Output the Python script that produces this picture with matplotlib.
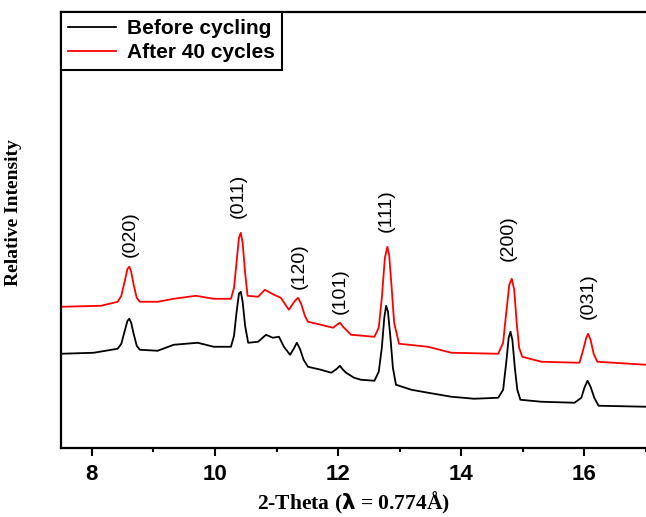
import matplotlib.pyplot as plt
from matplotlib.ticker import MultipleLocator

# XRD patterns (arbitrary intensity units)
theta_before = [7.50, 8.03, 8.42, 8.48, 8.54, 8.58, 8.61, 8.64, 8.68, 8.73, 8.78,
                9.07, 9.33, 9.72, 9.98, 10.26, 10.31, 10.35, 10.39, 10.42, 10.45,
                10.49, 10.54, 10.70, 10.83, 10.94, 11.04, 11.12, 11.22, 11.28, 11.33,
                11.38, 11.44, 11.51, 11.72, 11.89, 11.98, 12.03, 12.08, 12.13, 12.26,
                12.37, 12.59, 12.66, 12.71, 12.75, 12.78, 12.81, 12.85, 12.89, 12.94,
                13.19, 13.46, 13.84, 14.21, 14.60, 14.68, 14.73, 14.77, 14.80, 14.83,
                14.87, 14.91, 14.96, 15.30, 15.84, 15.95, 16.00, 16.05, 16.10, 16.16,
                16.23, 17.00]
int_before = [94, 95, 99, 104, 118, 127, 129, 125, 114, 102, 98,
              97, 103, 105, 101, 101, 112, 135, 154, 156, 146,
              122, 105, 106, 113, 110, 111, 101, 93, 99, 105,
              99, 88, 81, 78, 75, 79, 82, 78, 75, 70,
              68, 67, 76, 100, 130, 142, 136, 110, 80, 63,
              58, 55, 51, 49, 50, 58, 85, 110, 116, 108,
              80, 58, 48, 46, 45, 50, 60, 67, 61, 50,
              42, 41]

theta_after = [7.50, 8.15, 8.42, 8.48, 8.54, 8.58, 8.61, 8.64, 8.68, 8.73, 8.78,
               9.07, 9.33, 9.69, 9.98, 10.26, 10.31, 10.35, 10.39, 10.42, 10.45,
               10.49, 10.53, 10.70, 10.81, 10.96, 11.07, 11.20, 11.30, 11.35, 11.40,
               11.46, 11.51, 11.72, 11.92, 11.98, 12.03, 12.08, 12.13, 12.21, 12.59,
               12.66, 12.71, 12.76, 12.80, 12.83, 12.87, 12.91, 12.99, 13.46, 13.84,
               14.60, 14.68, 14.73, 14.78, 14.82, 14.86, 14.90, 14.94, 14.99, 15.30,
               15.92, 15.98, 16.03, 16.06, 16.10, 16.15, 16.21, 17.00]
int_after = [141, 142, 146, 152, 168, 179, 181, 176, 163, 150, 146,
             146, 149, 152, 149, 149, 160, 185, 210, 215, 205,
             175, 152, 151, 158, 153, 150, 138, 147, 150, 144,
             132, 126, 123, 120, 123, 125, 121, 118, 113, 111,
             120, 150, 190, 201, 192, 160, 125, 104, 101, 95,
             94, 105, 135, 163, 169, 158, 125, 100, 91, 86,
             85, 98, 110, 114, 108, 94, 86, 83]

hkl = ["(020)", "(011)", "(120)", "(101)", "(111)", "(200)", "(031)"]
hkl_x = [8.63, 10.38, 11.37, 12.03, 12.78, 14.76, 16.07]
hkl_y = [214, 252, 182, 157, 237, 210, 152]

fig = plt.figure(figsize=(6.46, 5.17), dpi=100)
ax = fig.add_axes([0.0944, 0.134, 0.9056, 0.843])

ax.plot(theta_before, int_before, color="black", lw=1.3, label="Before cycling")
ax.plot(theta_after, int_after, color="red", lw=1.3, label="After 40 cycles")

for t, x, y in zip(hkl, hkl_x, hkl_y):
    ax.text(x, y, t, rotation=90, ha="center", va="center",
            fontsize=14, family="Liberation Sans")

ax.set_xlim(7.5, 17)
ax.set_ylim(0, 436)
ax.xaxis.set_major_locator(MultipleLocator(2))
ax.xaxis.set_minor_locator(MultipleLocator(1))
ax.set_yticks([])
ax.tick_params(axis="x", which="major", length=6, width=1.5, direction="out", pad=6)
ax.tick_params(axis="x", which="minor", length=3, width=1.5, direction="out")
for lab in ax.get_xticklabels():
    lab.set_fontsize(16)
    lab.set_fontweight("bold")
    lab.set_family("Liberation Sans")

for side in ["left", "bottom", "top"]:
    ax.spines[side].set_linewidth(1.6)
ax.spines["right"].set_visible(False)

ax.set_xlabel("2-Theta ($\\mathbf{\\lambda}$ = 0.774Å)", fontsize=15.5, fontweight="bold",
              family="Liberation Serif", labelpad=3)
ax.set_ylabel("Relative Intensity", fontsize=14, fontweight="bold",
              family="Liberation Serif")
ax.yaxis.set_label_coords(-0.067, 0.54)

leg = ax.legend(loc="upper left", borderaxespad=0, fancybox=False, handlelength=2.3,
                prop={"family": "Liberation Sans", "weight": "bold", "size": 15},
                borderpad=0.35, labelspacing=0.25, handletextpad=0.5)
leg.get_frame().set_edgecolor("black")
leg.get_frame().set_linewidth(1.5)
leg.get_frame().set_alpha(1)

fig.savefig("out.png", dpi=100)
